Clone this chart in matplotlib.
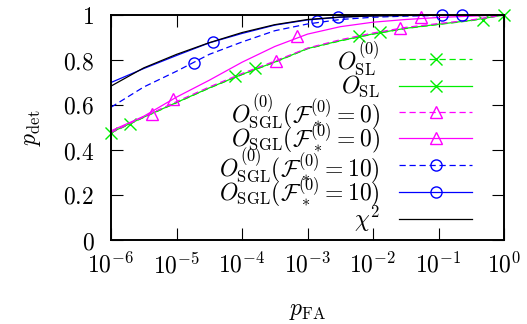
import numpy as np
import matplotlib
matplotlib.use("Agg")
import matplotlib.pyplot as plt
from matplotlib.lines import Line2D

plt.rcParams['mathtext.fontset'] = 'cm'
plt.rcParams['font.family'] = ['DejaVu Serif']

# log10(p_FA) grid for the curves
log_pfa = [-6, -5.5, -5, -4.5, -4, -3.5, -3, -2.5, -2, -1.5, -1, -0.5, 0]

sl0      = [0.476, 0.545, 0.61, 0.675, 0.735, 0.79, 0.85, 0.885, 0.915, 0.94, 0.958, 0.975, 1.0]
sl       = [0.478, 0.546, 0.611, 0.676, 0.736, 0.791, 0.851, 0.886, 0.916, 0.941, 0.959, 0.976, 1.0]
sgl0_f0  = [0.478, 0.548, 0.615, 0.68, 0.74, 0.795, 0.853, 0.89, 0.92, 0.945, 0.962, 0.978, 1.0]
sgl_f0   = [0.485, 0.55, 0.635, 0.71, 0.79, 0.86, 0.915, 0.948, 0.968, 0.98, 0.989, 0.995, 1.0]
sgl0_f10 = [0.59, 0.68, 0.75, 0.825, 0.88, 0.93, 0.96, 0.98, 0.99, 0.995, 0.998, 0.999, 1.0]
sgl_f10  = [0.70, 0.762, 0.82, 0.876, 0.918, 0.955, 0.978, 0.99, 0.996, 0.998, 0.999, 1.0, 1.0]
chi2     = [0.684, 0.765, 0.825, 0.877, 0.922, 0.957, 0.98, 0.991, 0.996, 0.998, 0.999, 1.0, 1.0]

# marker positions (log10 p_FA) and values
sl0_mx, sl0_my = [-6, -4.11, -2.21, -0.32], [0.476, 0.729, 0.905, 0.98]
sl_mx, sl_my = [-5.71, -3.80, -1.90, 0], [0.516, 0.764, 0.924, 1.0]
sgl0_f0_mx, sgl0_f0_my = [-5.37, -3.48, -1.59], [0.56, 0.797, 0.942]
sgl_f0_mx, sgl_f0_my = [-5.05, -3.16, -1.27], [0.627, 0.905, 0.99]
sgl0_f10_mx, sgl0_f10_my = [-4.74, -2.86, -0.95], [0.787, 0.972, 0.998]
sgl_f10_mx, sgl_f10_my = [-4.44, -2.54, -0.64], [0.882, 0.99, 0.999]

labels = [r'$O_{\rm SL}^{(0)}$', r'$O_{\rm SL}$',
          r'$O_{\rm SGL}^{(0)}(\mathcal{F}_*^{(0)}=0)$',
          r'$O_{\rm SGL}(\mathcal{F}_*^{(0)}=0)$',
          r'$O_{\rm SGL}^{(0)}(\mathcal{F}_*^{(0)}=10)$',
          r'$O_{\rm SGL}(\mathcal{F}_*^{(0)}=10)$',
          r'$\chi^2$']

xticks = [1e-6, 1e-5, 1e-4, 1e-3, 1e-2, 1e-1, 1e0]
xticklabels = [r'$10^{-6}$', r'$10^{-5}$', r'$10^{-4}$', r'$10^{-3}$', r'$10^{-2}$', r'$10^{-1}$', r'$10^{0}$']
yticks = [0, 0.2, 0.4, 0.6, 0.8, 1.0]
yticklabels = [r'$0$', r'$0.2$', r'$0.4$', r'$0.6$', r'$0.8$', r'$1$']

fig = plt.figure(figsize=(5.27, 3.24), dpi=100)
ax = fig.add_axes([111/527, 1-240/324, (504-111)/527, (240-15)/324])

x = 10.0 ** np.array(log_pfa)
DASH = (5, 3)
lw = 0.9
series = [
    (sl0, sl0_mx, sl0_my, '#00ee00', 'x', True, 9),
    (sl, sl_mx, sl_my, '#00ee00', 'x', False, 9),
    (sgl0_f0, sgl0_f0_mx, sgl0_f0_my, '#ff00ff', '^', True, 8),
    (sgl_f0, sgl_f0_mx, sgl_f0_my, '#ff00ff', '^', False, 8),
    (sgl0_f10, sgl0_f10_mx, sgl0_f10_my, '#0000ff', 'o', True, 8),
    (sgl_f10, sgl_f10_mx, sgl_f10_my, '#0000ff', 'o', False, 8),
    (chi2, None, None, '#000000', None, False, 0),
]

for y, mx, my, c, m, dashed, ms in series:
    ln, = ax.plot(x, y, color=c, lw=lw)
    if dashed:
        ln.set_dashes(DASH)
    if mx is not None:
        ax.plot(10.0 ** np.array(mx), my, linestyle='none', marker=m, ms=ms,
                mfc='none', mec=c, mew=1.0, clip_on=False)

ax.set_xscale('log')
ax.set_xlim(1e-6, 1)
ax.set_ylim(0, 1)
ax.set_xticks(xticks)
ax.set_xticklabels(xticklabels)
ax.xaxis.set_minor_locator(matplotlib.ticker.NullLocator())
ax.set_yticks(yticks)
ax.set_yticklabels(yticklabels)
ax.tick_params(direction='in', length=8.5, width=0.8, top=True, right=True,
               labelsize=17)
ax.tick_params(axis='y', pad=12)
ax.tick_params(axis='x', pad=9)
for s in ax.spines.values():
    s.set_linewidth(1.4)

ax.set_xlabel(r'$p_{\rm FA}$', fontsize=17, labelpad=15)
ax.set_ylabel(r'$p_{\rm det}$', fontsize=17, labelpad=14)

# manual legend (labels right aligned, samples on right)
row_y = [0.804, 0.684, 0.569, 0.453, 0.333, 0.213, 0.093]
for (y, mx, my, c, m, dashed, ms), lab, ry in zip(series, labels, row_y):
    ax.text(0.684, ry, lab, transform=ax.transAxes, ha='right', va='center',
            fontsize=17)
    l = Line2D([0.733, 0.919], [ry, ry], transform=ax.transAxes, color=c, lw=lw)
    if dashed:
        l.set_dashes(DASH)
    ax.add_line(l)
    if m is not None:
        ax.plot([0.826], [ry], transform=ax.transAxes, marker=m, ms=ms,
                mfc='none', mec=c, mew=1.0, linestyle='none')

fig.savefig('out.png', dpi=100)
